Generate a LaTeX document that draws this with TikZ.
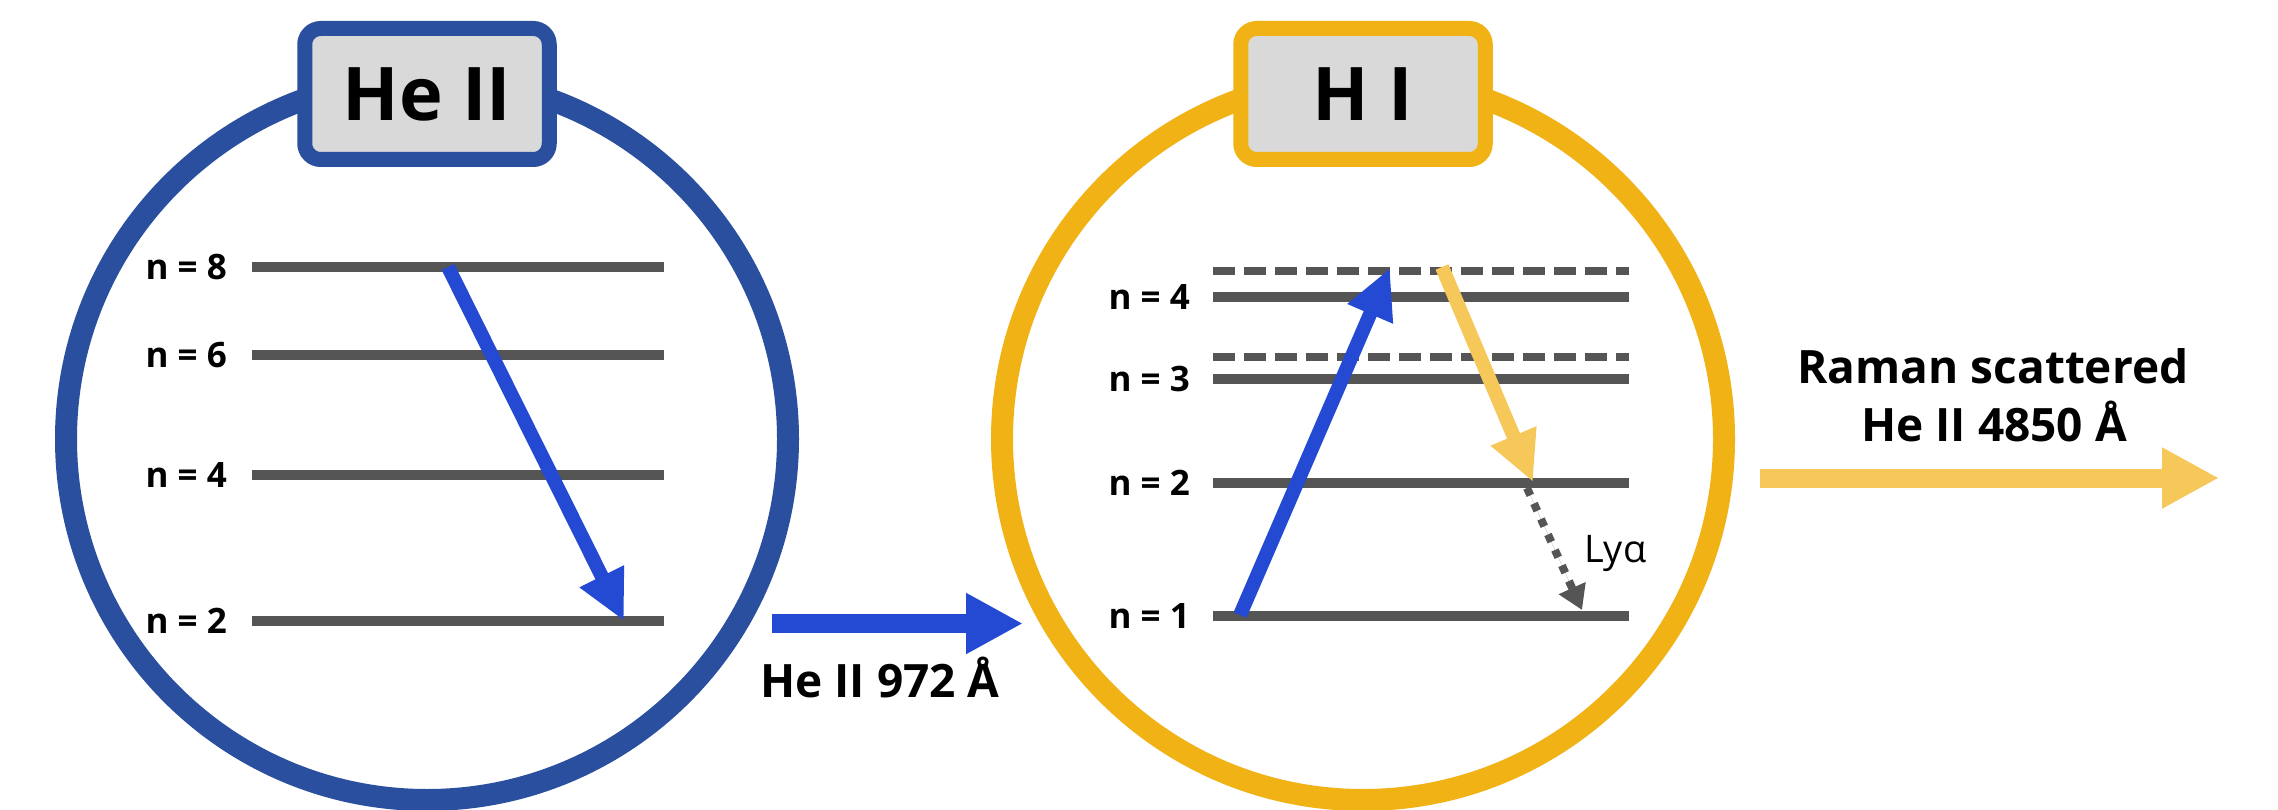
\documentclass[tikz,border=0pt]{standalone}
\usepackage{fontspec}
\setmainfont{Open Sans}
\usetikzlibrary{arrows.meta}
\definecolor{ringblue}{HTML}{2A4F9E}
\definecolor{arrowblue}{HTML}{244AD4}
\definecolor{ringgold}{HTML}{F0B214}
\definecolor{lightgold}{HTML}{F6C85A}
\definecolor{levelgray}{HTML}{555555}
\definecolor{boxgray}{HTML}{D9D9D9}
\begin{document}
\begin{tikzpicture}[x=1pt,y=-1pt,
  ring/.style={line width=22pt},
  titlebox/.style={fill=boxgray, line width=15pt, rounded corners=16pt,
    minimum width=244.5pt, minimum height=131pt, inner sep=0pt,
    font=\fontsize{74}{80}\selectfont\bfseries},
  level/.style={draw=levelgray, line width=10pt},
  dashlevel/.style={draw=levelgray, line width=8pt, dash pattern=on 22pt off 9pt},
  nlab/.style={anchor=east, inner sep=0pt, font=\fontsize{35}{40}\selectfont\bfseries},
  lab/.style={inner sep=0pt, font=\fontsize{46}{52}\selectfont\bfseries},
  transarrow/.style={line width=14pt, -{Triangle[length=50pt,width=46pt]}},
  bigarrow/.style={line width=19pt, -{Triangle[length=57pt,width=57pt]}},
  dotarrow/.style={draw=levelgray, line width=8pt, dash pattern=on 8pt off 9pt,
    -{Triangle[length=24pt,width=28pt]}}
]
\useasboundingbox (0,0) rectangle (2278,810);
\fill[white] (0,0) rectangle (2278,810);

% ---------- He II panel ----------
\draw[ring, draw=ringblue] (427,439) circle[radius=361pt];
\node[titlebox, draw=ringblue] (heII) at (427,94) {He II};

\coordinate (L8a) at (252,267); \coordinate (L8b) at (664,267);
\coordinate (L6a) at (252,355); \coordinate (L6b) at (664,355);
\coordinate (L4a) at (252,475); \coordinate (L4b) at (664,475);
\coordinate (L2a) at (252,621); \coordinate (L2b) at (664,621);
\draw[level] (L8a) -- (L8b);
\draw[level] (L6a) -- (L6b);
\draw[level] (L4a) -- (L4b);
\draw[level] (L2a) -- (L2b);
\node[nlab] (n8) at (227,267) {n = 8};
\node[nlab] (n6) at (227,355) {n = 6};
\node[nlab] (n4) at (227,475) {n = 4};
\node[nlab] (n2) at (227,621) {n = 2};

\coordinate (heS) at (448,267);
\coordinate (heE) at (624,621);
\draw[transarrow, draw=arrowblue, fill=arrowblue] (heS) -- (heE);

% ---------- transfer arrow ----------
\coordinate (t1s) at (772,623.5);
\coordinate (t1e) at (1023,623.5);
\draw[bigarrow, draw=arrowblue, fill=arrowblue] (t1s) -- (t1e);
\node[lab, anchor=base] (l972) at (880,697) {He II 972 Å};

% ---------- H I panel ----------
\draw[ring, draw=ringgold] (1363,439) circle[radius=361pt];
\node[titlebox, draw=ringgold] (hI) at (1363,94) {H I};

\coordinate (D4a) at (1213,271); \coordinate (D4b) at (1629,271);
\coordinate (H4a) at (1213,297); \coordinate (H4b) at (1629,297);
\coordinate (D3a) at (1213,357); \coordinate (D3b) at (1629,357);
\coordinate (H3a) at (1213,379); \coordinate (H3b) at (1629,379);
\coordinate (H2a) at (1213,483); \coordinate (H2b) at (1629,483);
\coordinate (H1a) at (1213,616); \coordinate (H1b) at (1629,616);
\draw[dashlevel] (D4a) -- (D4b);
\draw[dashlevel] (D3a) -- (D3b);
\draw[level] (H4a) -- (H4b);
\draw[level] (H3a) -- (H3b);
\draw[level] (H2a) -- (H2b);
\draw[level] (H1a) -- (H1b);
\node[nlab] (m4) at (1190,297) {n = 4};
\node[nlab] (m3) at (1190,379) {n = 3};
\node[nlab] (m2) at (1190,483) {n = 2};
\node[nlab] (m1) at (1190,616) {n = 1};

\coordinate (upS) at (1240,615);
\coordinate (upE) at (1390,268);
\draw[transarrow, draw=arrowblue, fill=arrowblue] (upS) -- (upE);

\coordinate (dnS) at (1442,267);
\coordinate (dnE) at (1533,482);
\draw[transarrow, draw=lightgold, fill=lightgold] (dnS) -- (dnE);

\coordinate (lyS) at (1527,488);
\coordinate (lyE) at (1582,610);
\draw[dotarrow, fill=levelgray] (lyS) -- (lyE);
\node[anchor=base west, inner sep=0pt, font=\fontsize{38}{42}\selectfont] (lya) at (1584,562) {Lyα};

% ---------- output ----------
\coordinate (r1s) at (1760,478);
\coordinate (r1e) at (2219,478);
\draw[bigarrow, draw=lightgold, fill=lightgold] (r1s) -- (r1e);
\node[lab, anchor=base] (raman1) at (1993,383) {Raman scattered};
\node[lab, anchor=base] (raman2) at (1994,441) {He II 4850 Å};
\end{tikzpicture}
\end{document}
